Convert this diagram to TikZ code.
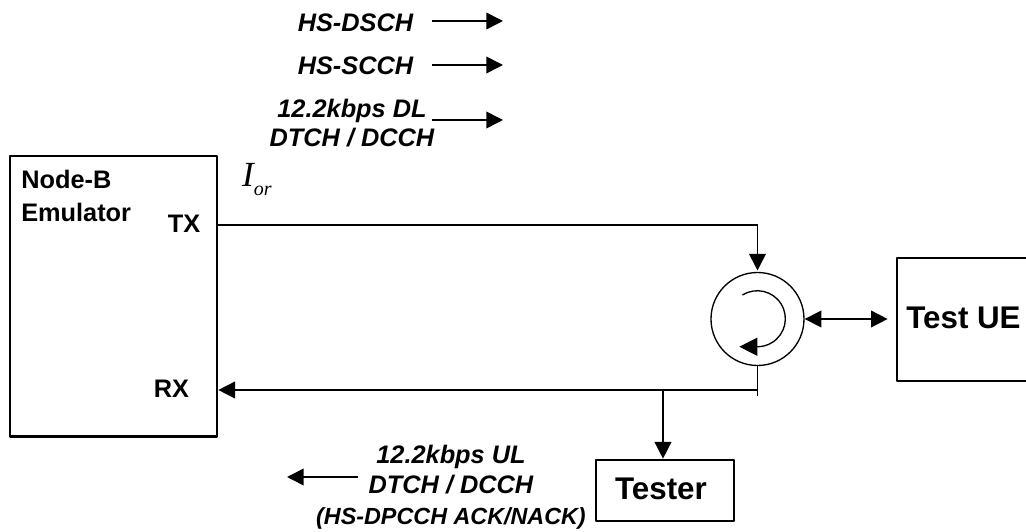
\documentclass[tikz,border=0pt]{standalone}
\usepackage{fontspec}
\setmainfont{Liberation Sans}
\newfontfamily\serifit{Liberation Serif}[ItalicFont=* Italic]
\usepackage{tikz}
\usetikzlibrary{arrows.meta,positioning,calc}

\begin{document}
\begin{tikzpicture}[
    x=0.75pt, y=0.75pt,
    font=\fontsize{19}{23}\selectfont\bfseries,
    box/.style={draw, line width=2pt, line join=round, inner sep=0pt, outer sep=0pt},
    bigtext/.style={font=\fontsize{23.5}{28}\selectfont\bfseries, text depth=3pt},
    siglabel/.style={font=\fontsize{19}{23}\selectfont\bfseries\itshape, align=center, inner sep=0pt},
    portlabel/.style={inner sep=0pt, text depth=1.5pt},
    link/.style={-{Triangle[length=12.5pt,width=12.5pt]}, line width=1.2pt},
    biglink/.style={{Triangle[length=12.5pt,width=12.5pt]}-{Triangle[length=12.5pt,width=12.5pt]}, line width=1.2pt}
]
\useasboundingbox (0,0) rectangle (1026,532);

% boxes
\node[box, minimum width=207*0.75pt, minimum height=280.5*0.75pt] (nodeb) at (113.5,235.75) {};
\node[box, bigtext, minimum width=133*0.75pt, minimum height=123*0.75pt] (testue) at (963.5,212.5) {Test UE};
\node[box, bigtext, minimum width=138*0.75pt, minimum height=61*0.75pt] (tester) at (665,41.5) {Tester\kern6pt};
\node[circle, draw, line width=1pt, minimum size=93*0.75pt, inner sep=0pt, outer sep=0pt] (circ) at (757.5,213) {};

% box labels
\node[portlabel, align=left, anchor=north west] (nbname) at (21,362) {Node-B\\[2pt]Emulator};
\node[portlabel] (txl) at (184,307) {TX};
\node[portlabel] (rxl) at (171.5,142) {RX};
\node[inner sep=0pt, font=\fontsize{26.5}{30}\selectfont\serifit\itshape\mdseries] (ior) at (257,352) {I\raisebox{-6.75pt}{\fontsize{15}{17}\selectfont or}};

% signal labels
\node[siglabel] (hsdsch) at (355.5,509) {HS-DSCH};
\node[siglabel] (hsscch) at (355.5,466) {HS-SCCH};
\node[siglabel, font=\fontsize{19}{22}\selectfont\bfseries\itshape] (dldtch) at (352,409) {12.2kbps DL\\DTCH / DCCH};
\node[siglabel] (uldtch) at (451,45) {12.2kbps UL\\DTCH / DCCH\\{\fontsize{17.5}{23}\selectfont (HS-DPCCH ACK/NACK)}};

\coordinate (hsdscha) at (432,511);
\coordinate (hsdschb) at (503,511);
\coordinate (hsscha) at (432,467);
\coordinate (hsschb) at (503,467);
\coordinate (dla) at (432,412);
\coordinate (dlb) at (503,412);
\coordinate (ula) at (358,55);
\coordinate (ulb) at (287,55);
\coordinate (rxend) at (757.5,136);
\coordinate (tap) at (663,142);

% legend arrows
\foreach \a/\b in {hsdscha/hsdschb, hsscha/hsschb, dla/dlb, ula/ulb}
  \draw[link] (\a) -- (\b);

% connectors
\draw[link, shorten >=1.5pt] (nodeb.east |- txl) -- (circ.north |- txl) -- (circ.north);
\draw[line width=1.2pt] (circ.south) -- (rxend);
\draw[link, shorten >=1pt] (circ.south |- rxl) -- (nodeb.east |- rxl);
\draw[link, shorten >=1pt] (tap) -- (tap |- tester.north);
\draw[biglink, shorten <=0.5pt, shorten >=7pt] (circ.east) -- (testue.west |- circ.east);

% rotation mark
\draw[line width=1pt, -{Triangle[length=13.5pt,width=13.5pt]}] ($(circ.center)+(-15,24)$) arc[start angle=122, end angle=-90, radius=21pt] -- +(-18,0);
\end{tikzpicture}
\end{document}
